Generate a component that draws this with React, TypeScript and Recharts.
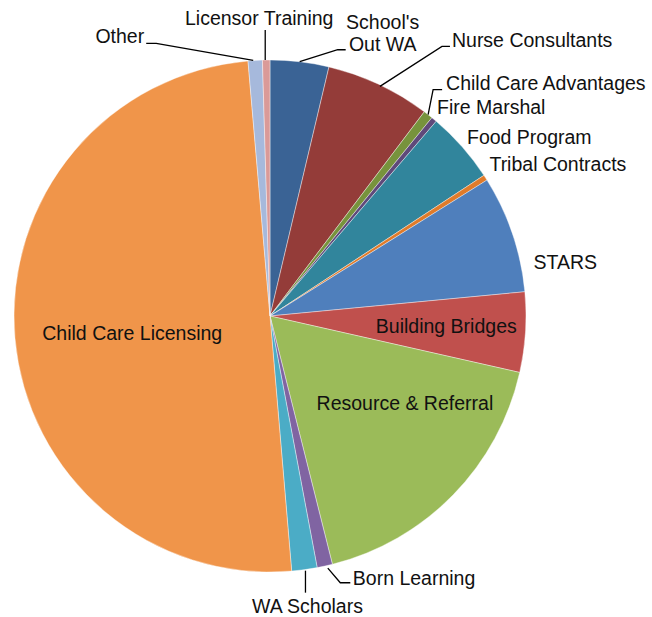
import React from "react";
import { PieChart, Pie, Cell } from "recharts";

const categories = [
  "School's Out WA",
  "Nurse Consultants",
  "Child Care Advantages",
  "Fire Marshal",
  "Food Program",
  "Tribal Contracts",
  "STARS",
  "Building Bridges",
  "Resource & Referral",
  "Born Learning",
  "WA Scholars",
  "Child Care Licensing",
  "Other",
  "Licensor Training",
];

const shares = [3.7, 6.6, 0.6, 0.35, 4.5, 0.35, 7.4, 5.05, 17.55, 0.97, 1.6, 50.0, 0.9, 0.47];

const colors = [
  "#3A6395",
  "#943C39",
  "#77933C",
  "#5F497A",
  "#31859C",
  "#E07B2A",
  "#4F7FBC",
  "#C0504D",
  "#9BBB59",
  "#8064A2",
  "#4BACC6",
  "#F0954A",
  "#A6B9DC",
  "#DA9A98",
];

const data = categories.map((name, i) => ({ name, value: shares[i] }));

type Layout = {
  inside?: boolean;
  rf?: number;
  lines?: string[];
  anchor: "start" | "middle" | "end";
  tx: number;
  ty: number;
  path?: number[][];
};

const labelLayout: Record<string, Layout> = {
  "School's Out WA": { lines: ["School's", "Out WA"], anchor: "middle", tx: 83, ty: -40, path: [[0, 0], [38, -12], [46, -12]] },
  "Nurse Consultants": { anchor: "start", tx: 73, ty: -44, path: [[1, 2], [63, -38], [71, -38]] },
  "Child Care Advantages": { anchor: "start", tx: 18, ty: -32, path: [[0, 0], [5, -25], [14, -25]] },
  "Fire Marshal": { anchor: "start", tx: 3, ty: -12 },
  "Food Program": { anchor: "start", tx: 5, ty: -10 },
  "Tribal Contracts": { anchor: "start", tx: 4, ty: -14 },
  STARS: { anchor: "start", tx: 21, ty: 28 },
  "Building Bridges": { inside: true, rf: 0.69, anchor: "middle", tx: 0, ty: -1 },
  "Resource & Referral": { inside: true, rf: 0.6, anchor: "middle", tx: 25, ty: -20 },
  "Born Learning": { anchor: "start", tx: 28, ty: 12, path: [[3, 2], [15.5, 16.7], [25.5, 16.7]] },
  "WA Scholars": { anchor: "middle", tx: 3, ty: 36, path: [[1, 1], [1, 23]] },
  "Child Care Licensing": { inside: true, rf: 0.54, anchor: "middle", tx: 0, ty: 5 },
  Other: { anchor: "end", tx: -111, ty: -24, path: [[-2, 0], [-99, -17], [-109, -17]] },
  "Licensor Training": { anchor: "middle", tx: -7, ty: -42, path: [[-1, 0], [-1, -30]] },
};

const RADIAN = Math.PI / 180;
const FONT = "'Liberation Sans', Arial, sans-serif";

const renderLabel = (props: any) => {
  const { cx, cy, midAngle, outerRadius, name } = props;
  const lay = labelLayout[name];
  if (!lay) return null;
  const r = lay.inside ? outerRadius * (lay.rf || 0.6) : outerRadius;
  const px = cx + r * Math.cos(-midAngle * RADIAN);
  const py = cy + r * Math.sin(-midAngle * RADIAN);
  const lines = lay.lines || [name];
  const lh = 22;
  const x = px + lay.tx;
  const y0 = py + lay.ty;
  return (
    <g key={name}>
      {lay.path && (
        <polyline
          points={lay.path.map(([dx, dy]) => `${px + dx},${py + dy}`).join(" ")}
          fill="none"
          stroke="#000"
          strokeWidth={1.3}
        />
      )}
      {lines.map((t, i) => (
        <text
          key={i}
          x={x}
          y={y0 + i * lh}
          textAnchor={lay.anchor}
          dominantBaseline="central"
          fontFamily={FONT}
          fontSize={19.5}
          fill="#111"
        >
          {t}
        </text>
      ))}
    </g>
  );
};

export default function App() {
  return (
    <div style={{ position: "absolute", left: 0, top: 0, width: 652, height: 617, background: "#fff" }}>
      <PieChart width={652} height={617} margin={{ top: 0, right: 0, bottom: 0, left: 0 }}>
        <Pie
          data={data}
          dataKey="value"
          nameKey="name"
          cx={270}
          cy={316}
          outerRadius={256}
          startAngle={90}
          endAngle={-270}
          label={renderLabel}
          labelLine={false}
          isAnimationActive={false}
          stroke="#ffffff"
          strokeWidth={0.4}
        >
          {data.map((d, i) => (
            <Cell key={d.name} fill={colors[i]} />
          ))}
        </Pie>
      </PieChart>
    </div>
  );
}
